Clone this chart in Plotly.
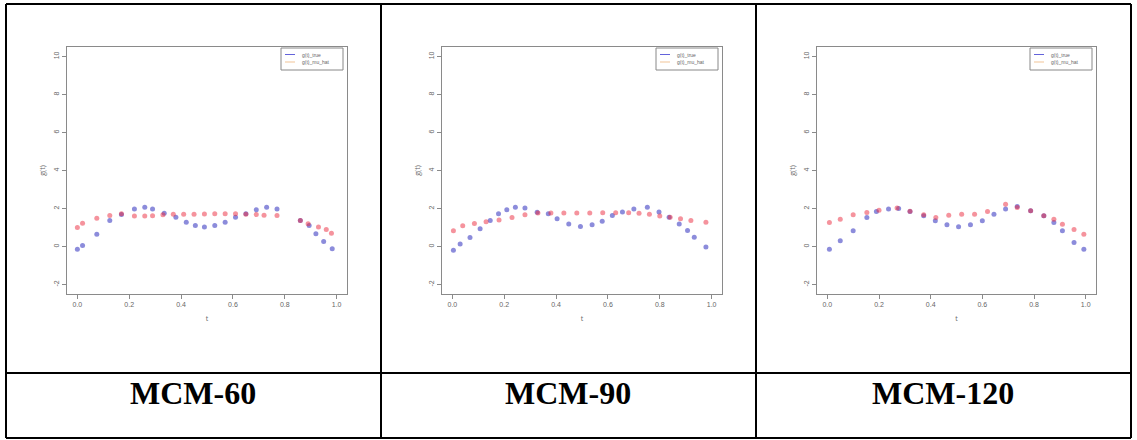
import plotly.graph_objects as go

W, H = 1137, 440

# ---- data ----
t1_true = [0.0, 0.02, 0.075, 0.125, 0.17, 0.22, 0.26, 0.29, 0.335, 0.38, 0.42, 0.455, 0.49, 0.53, 0.57, 0.61, 0.65, 0.69, 0.73, 0.77, 0.86, 0.894, 0.92, 0.95, 0.983]
g1_true = [-0.14, 0.05, 0.65, 1.37, 1.68, 1.98, 2.07, 1.98, 1.75, 1.54, 1.28, 1.1, 1.02, 1.1, 1.28, 1.54, 1.72, 1.93, 2.07, 1.98, 1.37, 1.1, 0.67, 0.26, -0.12]
t1_hat = [0.0, 0.02, 0.075, 0.125, 0.17, 0.22, 0.26, 0.29, 0.33, 0.37, 0.41, 0.45, 0.49, 0.53, 0.57, 0.61, 0.65, 0.69, 0.72, 0.77, 0.86, 0.89, 0.93, 0.96, 0.98]
g1_hat = [1.0, 1.23, 1.49, 1.63, 1.72, 1.6, 1.6, 1.62, 1.67, 1.7, 1.7, 1.7, 1.71, 1.72, 1.72, 1.72, 1.7, 1.68, 1.65, 1.63, 1.37, 1.2, 1.02, 0.9, 0.7]

t2_true = [0.004, 0.03, 0.068, 0.107, 0.146, 0.178, 0.21, 0.243, 0.28, 0.327, 0.37, 0.404, 0.449, 0.494, 0.539, 0.578, 0.617, 0.656, 0.7, 0.752, 0.797, 0.836, 0.875, 0.907, 0.933, 0.978]
g2_true = [-0.2, 0.13, 0.48, 0.93, 1.37, 1.72, 1.93, 2.07, 2.03, 1.8, 1.72, 1.46, 1.19, 1.05, 1.14, 1.33, 1.63, 1.81, 1.98, 2.07, 1.81, 1.54, 1.19, 0.84, 0.49, -0.02]
t2_hat = [0.004, 0.04, 0.085, 0.13, 0.18, 0.23, 0.28, 0.33, 0.38, 0.43, 0.48, 0.53, 0.58, 0.63, 0.68, 0.72, 0.76, 0.8, 0.84, 0.88, 0.92, 0.978]
g2_hat = [0.83, 1.09, 1.21, 1.3, 1.39, 1.53, 1.67, 1.76, 1.76, 1.76, 1.76, 1.76, 1.77, 1.78, 1.78, 1.75, 1.7, 1.6, 1.54, 1.46, 1.37, 1.28]

t3_true = [0.008, 0.05, 0.1, 0.153, 0.19, 0.237, 0.276, 0.32, 0.373, 0.418, 0.463, 0.508, 0.554, 0.6, 0.645, 0.69, 0.735, 0.787, 0.838, 0.877, 0.91, 0.955, 0.993]
g3_true = [-0.14, 0.3, 0.83, 1.53, 1.84, 1.97, 2.0, 1.84, 1.62, 1.35, 1.14, 1.04, 1.14, 1.35, 1.7, 1.97, 2.1, 1.88, 1.62, 1.26, 0.83, 0.21, -0.14]
t3_hat = [0.008, 0.05, 0.1, 0.153, 0.2, 0.27, 0.32, 0.373, 0.42, 0.47, 0.52, 0.57, 0.62, 0.69, 0.735, 0.787, 0.838, 0.877, 0.91, 0.955, 0.993]
g3_hat = [1.26, 1.44, 1.67, 1.79, 1.91, 2.02, 1.86, 1.67, 1.53, 1.65, 1.7, 1.7, 1.84, 2.23, 2.05, 1.88, 1.62, 1.44, 1.17, 0.9, 0.65]

panels = [
    (t1_true, g1_true, t1_hat, g1_hat, "MCM-60"),
    (t2_true, g2_true, t2_hat, g2_hat, "MCM-90"),
    (t3_true, g3_true, t3_hat, g3_hat, "MCM-120"),
]
legend_names = ["g(t)_true", "g(t)_mu_hat"]
x_ticks = [0.0, 0.2, 0.4, 0.6, 0.8, 1.0]
x_ticklabels = ["0.0", "0.2", "0.4", "0.6", "0.8", "1.0"]
y_ticks = [-2, 0, 2, 4, 6, 8, 10]
y_ticklabels = ["-2", "0", "2", "4", "6", "8", "10"]

# ---- layout geometry (pixels) ----
frames = [(67, 347), (442, 722), (817, 1096)]
f_top, f_bot = 47, 294
cell_centers = [193, 568, 943]
label_y = 393
vlines = [6, 381, 756, 1131]
hlines = [4, 373, 438]

blue = "rgba(45,45,190,0.55)"
red = "rgba(235,40,60,0.5)"
axis_col = "#8a8a8a"
leg_blue = "rgba(60,60,210,0.8)"
leg_red = "rgba(240,190,140,0.9)"

fig = go.Figure()
layout = dict(width=W, height=H, margin=dict(l=0, r=0, t=0, b=0),
              paper_bgcolor="white", plot_bgcolor="white", showlegend=False)

shapes = []
annotations = []

def px(x):
    return x / W

def py(y):
    return 1 - y / H

for i, (tt, gt, th, gh, lab) in enumerate(panels):
    n = "" if i == 0 else str(i + 1)
    xa, ya = "x" + n, "y" + n
    fig.add_trace(go.Scatter(x=tt, y=gt, mode="markers", xaxis=xa, yaxis=ya, name=legend_names[0],
                             marker=dict(color=blue, size=5)))
    fig.add_trace(go.Scatter(x=th, y=gh, mode="markers", xaxis=xa, yaxis=ya, name=legend_names[1],
                             marker=dict(color=red, size=5)))
    l, r = frames[i]
    layout["xaxis" + n] = dict(domain=[px(l), px(r)], range=[-0.04, 1.04],
                               tickvals=x_ticks, ticktext=x_ticklabels,
                               ticks="outside", ticklen=4, tickcolor=axis_col,
                               showline=True, linecolor=axis_col, mirror=True,
                               showgrid=False, zeroline=False, anchor=ya,
                               tickfont=dict(size=7, color="#666", family="Liberation Sans"),
                               title=dict(text="t", font=dict(size=7, color="#666"), standoff=8))
    layout["yaxis" + n] = dict(domain=[py(f_bot), py(f_top)], range=[-2.5, 10.5],
                               tickvals=y_ticks, ticktext=y_ticklabels, tickangle=-90,
                               ticks="outside", ticklen=4, tickcolor=axis_col,
                               showline=True, linecolor=axis_col, mirror=True,
                               showgrid=False, zeroline=False, anchor=xa,
                               tickfont=dict(size=7, color="#666", family="Liberation Sans"),
                               title=dict(text="g(t)", font=dict(size=7, color="#666"), standoff=6))
    # manual R-style legend box
    bx0, bx1, by0, by1 = r - 66, r - 4, f_top + 1, f_top + 23
    shapes.append(dict(type="rect", xref="paper", yref="paper", x0=px(bx0), x1=px(bx1),
                       y0=py(by1), y1=py(by0), line=dict(color="#888", width=1), fillcolor="white"))
    for k, (col, nm) in enumerate([(leg_blue, legend_names[0]), (leg_red, legend_names[1])]):
        yy = by0 + 6.5 + k * 7.5
        shapes.append(dict(type="line", xref="paper", yref="paper", x0=px(bx0 + 4), x1=px(bx0 + 14),
                           y0=py(yy), y1=py(yy), line=dict(color=col, width=1)))
        annotations.append(dict(text=nm, xref="paper", yref="paper", x=px(bx0 + 19), y=py(yy),
                                xanchor="left", yanchor="middle", showarrow=False,
                                font=dict(size=5, color="#666", family="Liberation Sans")))

for xv in vlines:
    shapes.append(dict(type="line", xref="paper", yref="paper", x0=px(xv), x1=px(xv),
                       y0=py(hlines[0]), y1=py(hlines[2]), line=dict(color="black", width=2)))
for yv in hlines:
    shapes.append(dict(type="line", xref="paper", yref="paper", x0=px(vlines[0]), x1=px(vlines[-1]),
                       y0=py(yv), y1=py(yv), line=dict(color="black", width=2)))
layout["shapes"] = shapes

for i, p in enumerate(panels):
    annotations.append(dict(text="<b>" + p[4] + "</b>", xref="paper", yref="paper",
                            x=px(cell_centers[i]), y=py(label_y), showarrow=False,
                            xanchor="center", yanchor="middle",
                            font=dict(family="Liberation Serif", size=32, color="black")))
layout["annotations"] = annotations

fig.update_layout(**layout)
fig.write_html("out.html", config={"displayModeBar": False},
               post_script="document.body.style.margin='0';document.body.style.overflow='hidden';")
